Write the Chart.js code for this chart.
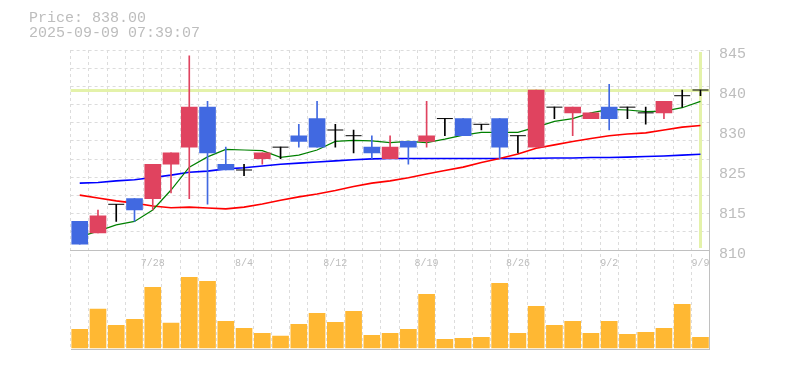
<!DOCTYPE html>
<html>
<head>
<meta charset="utf-8">
<script src="https://cdn.jsdelivr.net/npm/chart.js@4.4.1/dist/chart.umd.min.js"></script>
<style>
html,body{margin:0;padding:0;background:#fff;}
#wrap{position:relative;width:785px;height:370px;overflow:hidden;}
#hdr{position:absolute;left:29px;top:10.5px;font-family:"Liberation Mono",monospace;font-size:15px;line-height:15.4px;color:#bdbdbd;white-space:pre;}
canvas{position:absolute;left:0;top:0;}
</style>
</head>
<body>
<div id="wrap"><canvas id="c" width="785" height="370"></canvas><div id="hdr"></div></div>
<script>
// ---------- data ----------
const dates = ['7/22','7/23','7/24','7/25','7/28','7/29','7/30','7/31','8/1','8/4','8/5','8/6','8/7','8/8','8/12','8/13','8/14','8/15','8/18','8/19','8/20','8/21','8/22','8/25','8/26','8/27','8/28','8/29','9/1','9/2','9/3','9/4','9/5','9/8','9/9'];
const opens  = [815,813,818,819,819,825,828,835,825,824,826,828,830,833,831,830,828,826,829,829,833,833,832,833,830,828,835,834,833,835,835,834,834,837,838];
const highs  = [815,817,818,819,825,827,844,836,828,825,827,828,832,836,832,831,830,830,829,836,833,833,832,833,830,838,835,835,834,839,835,835,836,838,838];
const lows   = [811,813,815,815,817,820,819,818,824,823,825,826,828,828,828,827,826,826,825,828,830,830,831,826,827,828,833,830,833,831,833,832,833,835,837];
const closes = [811,816,818,817,825,827,835,827,824,824,827,828,829,828,831,830,827,828,828,830,833,830,832,828,830,838,835,835,834,833,835,834,836,837,838];
const ma5  = [812.3,813.3,814.4,815.0,817.0,820.5,824.5,826.3,827.6,827.5,827.4,826.2,826.6,827.5,829.0,829.2,829.1,828.8,829.0,828.8,829.4,830.1,830.6,830.6,830.6,831.5,832.5,833.0,834.0,834.6,834.5,834.2,834.3,834.9,836.0];
const ma25 = [819.6,819.1,818.6,818.2,817.7,817.4,817.5,817.35,817.2,817.5,818.05,818.7,819.3,819.8,820.4,821.1,821.7,822.1,822.65,823.3,823.9,824.5,825.3,826.0,826.8,827.8,828.4,829.0,829.5,830.0,830.3,830.5,831.0,831.5,831.8];
const ma75 = [821.7,821.8,822.1,822.3,822.7,823.1,823.6,823.8,824.2,824.4,824.7,825.0,825.2,825.4,825.6,825.8,825.95,826.0,826.0,826.0,826.0,826.0,826.0,826.0,826.0,826.05,826.1,826.1,826.2,826.2,826.25,826.35,826.45,826.6,826.75];
const volumes = [187,390,227,287,607,250,707,667,267,197,147,120,237,347,257,367,127,147,187,537,87,97,107,647,147,417,227,267,147,267,137,157,197,437,107];
const xTickLabels = ['7/28','8/4','8/12','8/19','8/26','9/2','9/9'];
const priceTickValues = [810,817,824,831,838,845];
const priceTickLabels = ['810','815','825','830','840','845'];
const currentPrice = 838;
const headerLines = ['Price: 838.00','2025-09-09 07:39:07'];

// ---------- layout / style ----------
const W = 785, H = 370;
const AREA = {left:70.6, right:709.6, top:50, priceBottom:250, bottom:349.6};
const VOL_ZERO_PX = 348;          // pixel row of volume baseline
const VOL_PER_PX = 10;
const PRICE_MAX = 845, PRICE_MIN = 810;
const Y_LABEL_W = 60;
const pxPerPrice = (AREA.priceBottom - AREA.top) / (PRICE_MAX - PRICE_MIN);
const yAxisMin = PRICE_MIN - (AREA.bottom - AREA.priceBottom) / pxPerPrice;
const LABEL_SHIFT = 4 / pxPerPrice;
const gridVals = Array.from({length:12}, (_, k) => PRICE_MIN + k * (PRICE_MAX - PRICE_MIN) / 11);
const UP = '#e0435f', DOWN = '#4169e1', DOJI = '#000000';
const GRID = '#dcdcdc', AXIS = '#c0c0c0', TEXT = '#bdbdbd', VOL = '#ffb833', MARK = '#e4f2aa';
const FONT = 'Liberation Mono';

document.getElementById('hdr').textContent = headerLines.join('\n');

const candleColor = dates.map((_, i) => closes[i] > opens[i] ? UP : (closes[i] < opens[i] ? DOWN : DOJI));

const markerPlugin = {
  id: 'marker',
  beforeDatasetsDraw(chart) {
    const {ctx, chartArea, scales} = chart;
    const y = scales.y.getPixelForValue(currentPrice);
    const x = scales.x.getPixelForValue(dates.length - 1);
    const yTop = scales.y.getPixelForValue(PRICE_MAX);
    const yBot = scales.y.getPixelForValue(PRICE_MIN);
    ctx.save();
    ctx.fillStyle = MARK;
    ctx.fillRect(chartArea.left, Math.round(y) - 1, chartArea.right - chartArea.left, 3);
    ctx.fillRect(Math.round(x - 1.5), Math.round(yTop) + 2, 3, Math.round(yBot - yTop) - 4);
    ctx.restore();
  }
};

new Chart(document.getElementById('c'), {
  type: 'bar',
  data: {
    labels: dates,
    datasets: [
      { type:'line', label:'doji', data: dates.map((_, i) => opens[i] === closes[i] ? opens[i] : null),
        showLine:false, pointStyle:'line', pointRadius:8, pointHoverRadius:8, pointBorderWidth:1,
        pointBorderColor: DOJI, borderColor: DOJI, yAxisID:'y', order:0 },
      { type:'bar', label:'body', data: dates.map((_, i) => opens[i] !== closes[i] ? [Math.min(opens[i], closes[i]), Math.max(opens[i], closes[i])] : null),
        backgroundColor: candleColor, barThickness:16, grouped:false, borderWidth:0, yAxisID:'y', order:1 },
      { type:'bar', label:'wick', data: dates.map((_, i) => [lows[i], highs[i]]),
        backgroundColor: candleColor, barThickness:1, grouped:false, borderWidth:0, yAxisID:'y', order:2 },
      { type:'line', label:'MA5', data: ma5, borderColor:'#008000', borderWidth:1.2, pointRadius:0, tension:0, yAxisID:'y', order:3 },
      { type:'line', label:'MA25', data: ma25, borderColor:'#ff0000', borderWidth:1.6, pointRadius:0, tension:0, yAxisID:'y', order:4 },
      { type:'line', label:'MA75', data: ma75, borderColor:'#0000ff', borderWidth:1.6, pointRadius:0, tension:0, yAxisID:'y', order:5 },
      { type:'bar', label:'volume', data: volumes, backgroundColor: VOL, barThickness:16, grouped:false, borderWidth:0, yAxisID:'yv', order:6 }
    ]
  },
  options: {
    responsive:false, animation:false, devicePixelRatio:1,
    layout: { padding: { left: AREA.left, right: W - AREA.right - Y_LABEL_W, top: AREA.top, bottom: H - AREA.bottom } },
    plugins: { legend:{display:false}, tooltip:{enabled:false} },
    events: [],
    scales: {
      x: {
        type:'category', offset:true, position:{y: PRICE_MIN},
        afterFit: s => { s.height = 0; },
        grid: { offset:true, color: GRID, lineWidth:1, drawTicks:false },
        border: { display:true, color: AXIS, width:1, dash:[3,3] },
        ticks: { autoSkip:false, maxRotation:0, minRotation:0, padding:7.5, color: TEXT,
                 font:{family: FONT, size:10},
                 callback: (v, i) => xTickLabels.includes(dates[i]) ? dates[i] : '' }
      },
      y: {
        type:'linear', position:'right', min: yAxisMin, max: PRICE_MAX,
        afterBuildTicks: s => { s.ticks = gridVals.map(v => ({value: v})); },
        afterFit: s => { s.width = 0; },
        ticks: { display:false },
        grid: { color: GRID, lineWidth:1, drawTicks:false },
        border: { display:false, dash:[3,3] }
      },
      yl: {
        type:'linear', position:'right', min: yAxisMin, max: PRICE_MAX,
        afterBuildTicks: s => { s.ticks = priceTickValues.map(v => ({value: v - LABEL_SHIFT})); },
        afterFit: s => { s.width = Y_LABEL_W; },
        grid: { display:false, drawTicks:false },
        border: { display:true, color: AXIS, width:1 },
        ticks: { padding:9.4, color: TEXT, font:{family: FONT, size:15},
                 callback: (v, i) => priceTickLabels[i] }
      },
      yv: {
        type:'linear', position:'left',
        min: -(AREA.bottom - VOL_ZERO_PX) * VOL_PER_PX,
        max: -(AREA.bottom - VOL_ZERO_PX) * VOL_PER_PX + (AREA.bottom - AREA.top) * VOL_PER_PX,
        afterBuildTicks: s => { s.ticks = [{value: s.min}]; },
        afterFit: s => { s.width = 0; },
        ticks: { display:false },
        grid: { color: AXIS, lineWidth:1, drawTicks:false },
        border: { display:false }
      }
    }
  },
  plugins: [markerPlugin]
});
</script>
</body>
</html>
